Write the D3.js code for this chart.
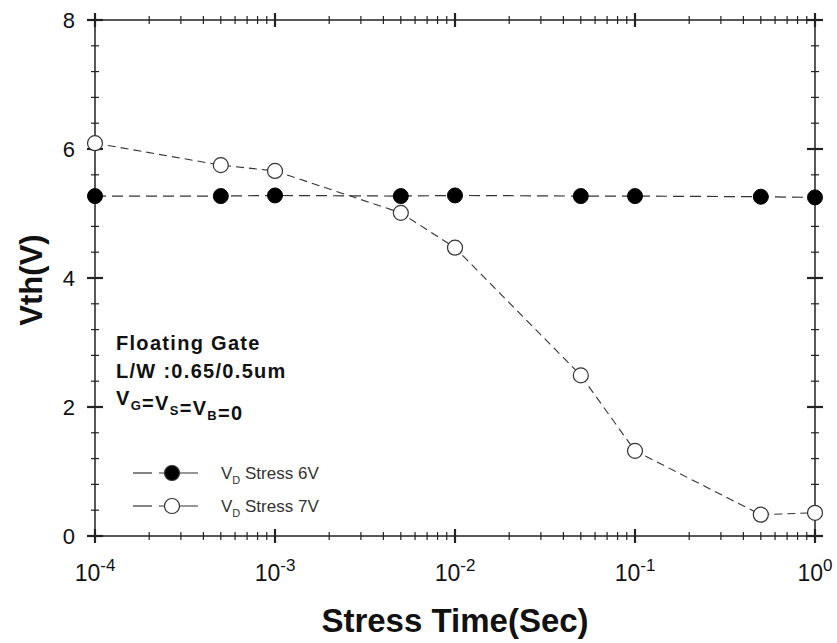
<!DOCTYPE html>
<html><head><meta charset="utf-8">
<script src="https://cdn.jsdelivr.net/npm/d3@7"></script>
<style>body{margin:0;background:#fff}svg{display:block;font-family:Arial,"Liberation Sans",sans-serif}</style>
</head><body>
<svg id="c" width="837" height="643"></svg>
<script>
const times = [1e-4, 5e-4, 1e-3, 5e-3, 1e-2, 5e-2, 1e-1, 5e-1, 1];
const vth6V = [5.27, 5.27, 5.28, 5.27, 5.28, 5.27, 5.27, 5.26, 5.25];
const vth7V = [6.09, 5.75, 5.66, 5.01, 4.47, 2.49, 1.32, 0.33, 0.36];
const seriesNames = ["Stress 6V", "Stress 7V"];
const xMajor = [1e-4, 1e-3, 1e-2, 1e-1, 1];
const xExp = ["-4", "-3", "-2", "-1", "0"];
const yMajor = [0, 2, 4, 6, 8];

const svg = d3.select("#c");
const L = 95, R = 815, T = 20, B = 536;
const x = d3.scaleLog().domain([1e-4, 1]).range([L, R]);
const y = d3.scaleLinear().domain([0, 8]).range([B, T]);
const ink = "#222";

// frame
svg.append("rect").attr("x", L).attr("y", T).attr("width", R - L).attr("height", B - T)
  .attr("fill", "none").attr("stroke", ink).attr("stroke-width", 1.5);

// x ticks (minor 2..9 per decade)
const xMinor = [];
for (let e = -4; e < 0; e++) for (let k = 2; k <= 9; k++) xMinor.push(k * Math.pow(10, e));
[B, T].forEach(yy => {
  svg.append("g").selectAll("line").data(xMinor).join("line")
    .attr("x1", d => x(d)).attr("x2", d => x(d)).attr("y1", yy - 4).attr("y2", yy + 4)
    .attr("stroke", ink).attr("stroke-width", 1.2);
  svg.append("g").selectAll("line").data(xMajor).join("line")
    .attr("x1", d => x(d)).attr("x2", d => x(d)).attr("y1", yy - 7).attr("y2", yy + 7)
    .attr("stroke", ink).attr("stroke-width", 2.2);
});
// y ticks
const yMinor = d3.range(0, 8.001, 0.4).filter(v => Math.abs(v / 2 - Math.round(v / 2)) > 1e-6);
[L, R].forEach(xx => {
  svg.append("g").selectAll("line").data(yMinor).join("line")
    .attr("x1", xx - 4).attr("x2", xx + 4).attr("y1", d => y(d)).attr("y2", d => y(d))
    .attr("stroke", ink).attr("stroke-width", 1.2);
  svg.append("g").selectAll("line").data(yMajor).join("line")
    .attr("x1", xx - 8).attr("x2", xx + 8).attr("y1", d => y(d)).attr("y2", d => y(d))
    .attr("stroke", ink).attr("stroke-width", 2.2);
});

// y tick labels
svg.append("g").selectAll("text").data(yMajor).join("text")
  .attr("x", 75).attr("y", d => y(d) + 8).attr("text-anchor", "end")
  .attr("font-size", 22).attr("fill", "#111").text(d => d);

// x tick labels
const xl = svg.append("g").selectAll("text").data(xMajor).join("text")
  .attr("x", d => x(d)).attr("y", 581).attr("text-anchor", "middle")
  .attr("font-size", 23).attr("fill", "#111");
xl.append("tspan").text("10");
xl.append("tspan").attr("dy", -10).attr("font-size", 17).text((d, i) => xExp[i]);

// axis titles
svg.append("text").attr("x", 455).attr("y", 632).attr("text-anchor", "middle")
  .attr("font-size", 33).attr("font-weight", "bold").attr("fill", "#111").text("Stress Time(Sec)");
svg.append("text").attr("transform", "translate(42,280) rotate(-90)").attr("text-anchor", "middle")
  .attr("font-size", 31).attr("font-weight", "bold").attr("fill", "#111").text("Vth(V)");

// lines
const line = d3.line().x(d => x(d[0])).y(d => y(d[1]));
const d6 = times.map((t, i) => [t, vth6V[i]]);
const d7 = times.map((t, i) => [t, vth7V[i]]);
svg.append("path").datum(d6).attr("d", line).attr("fill", "none")
  .attr("stroke", "#333").attr("stroke-width", 1.2).attr("stroke-dasharray", "11,6");
svg.append("path").datum(d7).attr("d", line).attr("fill", "none")
  .attr("stroke", "#333").attr("stroke-width", 1.1).attr("stroke-dasharray", "8,5");

// markers
svg.append("g").selectAll("circle").data(d6).join("circle")
  .attr("cx", d => x(d[0])).attr("cy", d => y(d[1])).attr("r", 7.5)
  .attr("fill", "#000").attr("stroke", "#000");
svg.append("g").selectAll("circle").data(d7).join("circle")
  .attr("cx", d => x(d[0])).attr("cy", d => y(d[1])).attr("r", 7.5)
  .attr("fill", "#fff").attr("stroke", "#333").attr("stroke-width", 1.2);

// annotation
const ann = svg.append("g").attr("font-size", 20).attr("font-weight", "bold")
  .attr("letter-spacing", 1.3).attr("fill", "#111");
ann.append("text").attr("x", 116).attr("y", 350).text("Floating Gate");
ann.append("text").attr("x", 116).attr("y", 378).text("L/W :0.65/0.5um");
const t3 = ann.append("text").attr("x", 116).attr("y", 405);
[["V", "G"], ["=V", "S"], ["=V", "B"], ["=0", null]].forEach(([a, s]) => {
  t3.append("tspan").text(a);
  if (s) { t3.append("tspan").attr("dy", 5).attr("font-size", 13).text(s); t3.append("tspan").attr("dy", -5).text(""); }
});

// legend
const leg = [{y: 473, fill: "#000", name: seriesNames[0]}, {y: 506, fill: "#fff", name: seriesNames[1]}];
leg.forEach(l => {
  const g = svg.append("g");
  g.append("line").attr("x1", 133).attr("x2", 152).attr("y1", l.y).attr("y2", l.y).attr("stroke", "#333").attr("stroke-width", 1.2);
  g.append("line").attr("x1", 159).attr("x2", 198).attr("y1", l.y).attr("y2", l.y).attr("stroke", "#333").attr("stroke-width", 1.2);
  g.append("circle").attr("cx", 172).attr("cy", l.y).attr("r", 7.5).attr("fill", l.fill).attr("stroke", "#333").attr("stroke-width", 1.2);
  const t = g.append("text").attr("x", 221).attr("y", l.y + 6).attr("font-size", 17).attr("fill", "#333");
  t.append("tspan").text("V");
  t.append("tspan").attr("dy", 5).attr("font-size", 11).text("D");
  t.append("tspan").attr("dy", -5).text(" " + l.name);
});
</script>
</body></html>
